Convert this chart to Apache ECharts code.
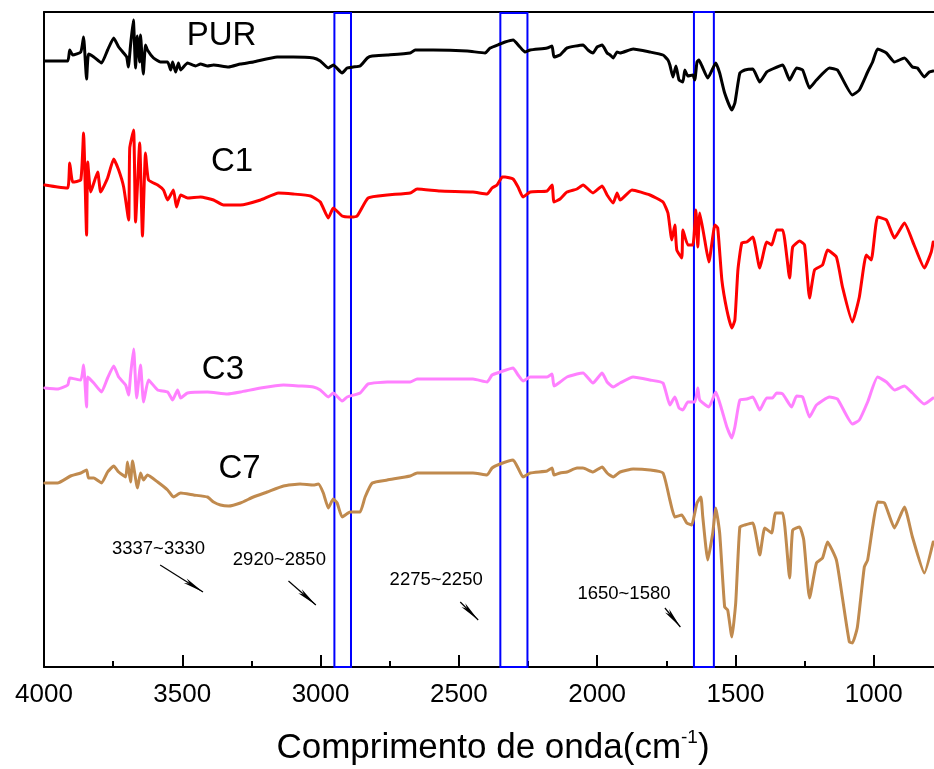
<!DOCTYPE html>
<html><head><meta charset="utf-8">
<script src="https://cdn.jsdelivr.net/npm/echarts@6/dist/echarts.min.js"></script>
<style>html,body{margin:0;padding:0;background:#fff}#c{width:934px;height:769px}</style>
</head><body><div id="c"></div><script>
// Wavenumber (cm-1) and transmittance (a.u., offset)
const purW = [3997,3951,3914,3907,3896,3867,3857,3846,3839,3820,3792,3770,3748,3730,3712,3701,3695,3687,3677,3669,3663,3654,3651,3641,3633,3626,3604,3579,3553,3542,3535,3524,3514,3506,3481,3452,3434,3409,3387,3333,3290,3243,3157,3099,3026,3001,2972,2954,2922,2904,2882,2857,2831,2813,2759,2676,2658,2593,2470,2405,2387,2351,2333,2304,2279,2261,2242,2181,2163,2156,2134,2109,2051,2033,2015,2000,1982,1964,1953,1942,1928,1917,1870,1809,1762,1744,1737,1726,1715,1704,1690,1683,1672,1654,1647,1639,1632,1621,1600,1571,1557,1539,1513,1502,1484,1466,1437,1412,1387,1366,1329,1304,1279,1257,1232,1207,1160,1131,1077,1052,1022,1004,986,954,925,889,860,842,817,799,785];
const purV = [60.6,60.6,60.6,61.7,61.2,61.5,63.0,58.8,61.3,61.0,60.4,61.7,62.9,62.0,61.4,61.0,60.0,62.2,64.7,59.9,63.1,60.5,63.2,59.3,62.2,61.7,60.9,60.5,60.5,59.7,60.5,59.5,60.4,59.7,60.4,60.1,60.3,60.1,60.2,60.0,60.3,60.5,61.0,61.0,60.9,60.6,59.9,60.2,59.4,59.9,60.0,60.1,60.9,61.1,61.2,61.4,61.7,61.7,61.6,61.4,61.9,62.3,62.5,62.7,62.0,61.5,61.7,61.9,62.1,61.0,61.2,61.9,62.2,61.7,61.4,62.0,62.2,61.4,61.2,60.9,61.5,61.4,61.8,61.5,61.2,60.7,60.2,59.0,60.1,58.7,58.5,59.7,59.1,59.2,58.7,60.5,60.7,60.1,58.9,60.4,59.4,57.4,55.7,56.4,59.4,59.7,59.8,58.5,59.5,59.8,60.2,58.7,59.9,59.7,57.9,58.7,59.9,59.7,57.2,57.7,59.5,60.5,61.8,61.4,60.5,60.9,60.0,59.9,59.0,59.5,59.6];

const c1W = [3997,3951,3914,3907,3896,3867,3857,3846,3842,3831,3806,3795,3770,3748,3730,3712,3694,3690,3676,3669,3654,3644,3633,3622,3589,3568,3553,3532,3521,3506,3481,3434,3387,3351,3333,3290,3217,3152,3099,3036,3001,2972,2954,2922,2893,2868,2828,2759,2676,2651,2568,2449,2398,2380,2362,2343,2333,2304,2286,2268,2242,2181,2163,2156,2134,2109,2073,2051,2015,1982,1964,1942,1928,1917,1874,1809,1762,1744,1730,1719,1712,1694,1690,1672,1654,1643,1636,1629,1611,1596,1574,1564,1549,1531,1513,1502,1491,1477,1459,1437,1412,1387,1369,1351,1329,1304,1293,1268,1250,1232,1214,1185,1167,1135,1113,1077,1052,1027,1009,986,954,925,889,854,817,792,785];
const c1V = [48.2,48.0,47.9,50.4,48.5,48.7,53.4,43.2,50.5,47.5,49.5,47.5,48.9,50.8,49.7,48.0,44.7,51.9,53.7,44.5,52.4,43.1,51.4,48.7,48.2,47.7,46.7,47.7,46.0,47.2,46.9,47.0,46.7,46.2,46.2,46.2,46.7,47.4,47.3,47.1,46.5,44.9,45.9,45.1,45.0,45.1,46.9,47.2,47.4,47.8,47.6,47.5,47.3,47.9,48.2,49.0,49.0,48.8,48.0,47.0,47.5,47.6,48.2,46.5,46.8,47.5,47.8,48.2,47.4,48.1,47.2,46.4,47.4,46.7,47.7,47.2,46.5,45.4,42.7,44.2,41.7,40.9,43.7,42.2,42.2,45.7,42.0,45.4,42.7,40.5,44.2,43.9,38.7,35.7,33.9,34.7,39.7,42.4,42.5,43.0,39.9,42.5,42.2,43.7,43.7,38.9,42.0,42.6,42.2,36.9,39.7,40.2,41.7,41.0,38.0,34.5,37.0,41.2,40.7,45.0,44.7,42.9,44.4,42.2,39.9,41.5,42.5];

const c3W = [3997,3951,3914,3907,3867,3857,3846,3842,3820,3792,3770,3748,3730,3705,3694,3687,3676,3665,3651,3640,3622,3589,3553,3535,3517,3506,3481,3409,3337,3290,3217,3134,3074,3026,3001,2972,2954,2922,2904,2857,2828,2759,2676,2651,2568,2449,2398,2380,2351,2304,2286,2268,2242,2181,2163,2156,2134,2109,2073,2051,2015,1982,1964,1942,1917,1870,1809,1762,1737,1719,1704,1690,1672,1647,1636,1629,1596,1571,1549,1531,1513,1502,1484,1459,1437,1412,1387,1366,1351,1329,1297,1279,1257,1232,1207,1160,1131,1077,1052,1022,986,954,925,889,860,817,785];
const c3V = [27.9,27.8,28.2,28.9,28.7,30.2,26.0,29.0,28.4,27.5,28.9,30.1,29.0,28.2,27.2,29.2,31.8,26.9,30.2,26.5,28.7,27.7,27.5,26.7,27.7,26.9,27.4,27.5,27.3,27.5,27.9,28.2,28.1,28.0,27.7,27.0,27.4,26.6,27.0,27.4,28.3,28.5,28.5,28.8,28.8,28.8,28.5,29.2,29.5,29.9,29.2,28.6,29.0,29.0,29.3,28.1,28.5,29.0,29.3,29.4,28.4,29.4,28.5,28.0,28.4,29.0,28.7,28.4,26.2,27.0,25.9,25.7,26.5,26.5,27.9,26.7,26.0,27.5,25.7,24.0,22.9,24.0,26.7,26.8,27.0,25.7,26.9,26.9,27.4,27.3,26.0,27.1,27.0,25.0,26.2,27.0,26.8,24.3,24.7,26.5,29.0,28.5,27.7,28.1,27.4,26.3,26.9];

const c7W = [3997,3951,3904,3867,3846,3839,3820,3792,3770,3748,3730,3705,3698,3687,3680,3662,3651,3640,3626,3589,3553,3532,3506,3459,3409,3387,3362,3333,3290,3243,3193,3134,3074,3026,3008,2990,2972,2954,2940,2922,2893,2875,2857,2839,2813,2759,2676,2651,2568,2449,2398,2380,2351,2304,2286,2268,2242,2181,2163,2156,2134,2109,2073,2051,2015,1982,1964,1942,1917,1870,1809,1762,1737,1719,1694,1676,1658,1650,1639,1625,1618,1600,1582,1571,1557,1539,1528,1513,1499,1484,1466,1437,1412,1394,1369,1355,1329,1304,1293,1268,1253,1232,1207,1185,1167,1135,1113,1088,1077,1059,1034,1022,1004,986,961,925,889,860,817,785];
const c7V = [18.4,18.4,19.1,19.4,19.7,18.9,18.9,18.4,19.5,20.1,19.5,19.0,20.5,18.5,20.6,17.9,19.4,18.7,19.2,18.5,17.7,17.0,17.4,17.2,17.0,16.5,16.2,16.1,16.4,17.0,17.5,18.1,18.3,18.2,18.3,17.4,15.9,16.8,16.4,15.0,15.5,15.5,15.5,17.0,18.4,18.7,19.1,19.4,19.4,19.4,19.2,19.9,20.3,20.7,19.9,19.0,19.4,19.6,19.9,19.2,19.4,19.5,19.9,19.9,19.5,20.0,19.4,19.0,19.5,19.8,19.7,19.4,16.7,15.0,15.2,14.4,14.2,15.0,16.4,17.0,15.0,10.7,13.4,15.9,13.4,6.0,5.7,3.0,6.4,14.0,14.2,14.4,11.2,13.9,13.4,15.4,15.4,8.9,13.7,14.0,12.7,6.9,10.4,10.9,12.5,10.7,6.9,2.5,2.4,4.0,10.0,10.7,14.0,16.5,16.4,13.9,16.0,13.0,9.4,12.5];

const seriesNames = ['PUR','C1','C3','C7'];
const seriesColors = ['#000000','#FF0000','#FF80FF','#C08A4E'];
// label anchor [wavenumber, value]
const nameAnchors = [[3358,63.1],[3320,50.5],[3353,29.7],[3293,19.8]];

// highlighted bands [from, to, top] and the single line
const bands = [[2950,2890,65.4],[2350,2252,65.4],[1650,1578,65.7]];
const singleLine = [3333, 65.8];

// annotations: text, text anchor, arrow start, arrow head centre
const annTexts = ['3337~3330','2920~2850','2275~2250','1650~1580'];
const annTextPos = [[3586,11.8],[3149,10.7],[2582,8.7],[1903,7.3]];
const annFrom = [[3580,10.2],[3116,8.6],[2495,6.5],[1755,5.9]];
const annTo = [[3425,7.5],[3017,6.2],[2430,4.7],[1699,4.0]];

const FONT = '"Liberation Sans", Arial, sans-serif';
const zip = (w, v) => w.slice(0, Math.min(w.length, v.length)).map((x, i) => [x, v[i]]);
const allData = [zip(purW,purV), zip(c1W,c1V), zip(c3W,c3V), zip(c7W,c7V)];

const chart = echarts.init(document.getElementById('c'), null, {renderer:'canvas'});

const series = allData.map((d, i) => ({
  name: seriesNames[i], type: 'line', data: d, showSymbol: false, symbol: 'none',
  smooth: 0.15,
  lineStyle: {color: seriesColors[i], width: 3, join: 'round', cap: 'round'}, itemStyle:{color: seriesColors[i]},
  z: 2, animation: false
}));

series.push({
  type: 'line', data: [], z: 5, clip: false, animation: false,
  markArea: {
    silent: true,
    itemStyle: {color: 'rgba(0,0,0,0)', borderColor: '#0000FF', borderWidth: 2},
    label: {show: false},
    data: bands.map(b => [{xAxis: b[0], yAxis: 0}, {xAxis: b[1], yAxis: b[2]}])
  },
  markLine: {
    silent: true, symbol: 'none', animation: false,
    label: {show: false},
    lineStyle: {color: '#0000FF', width: 2, type: 'solid'},
    data: [[{coord: [singleLine[0], 0]}, {coord: [singleLine[0], singleLine[1]]}]]
  }
});

series.push({
  type: 'line', data: [], z: 6, clip: false, animation: false,
  markLine: {
    silent: true, animation: false,
    label: {show: false},
    symbol: ['none', 'arrow'],
    symbolSize: [4, 21],
    lineStyle: {color: '#000000', width: 1.2, type: 'solid'},
    data: annFrom.map((f, i) => [{coord: f}, {coord: annTo[i]}])
  }
});

chart.setOption({
  animation: false,
  backgroundColor: '#ffffff',
  grid: {left: 44, right: -78, top: 12, bottom: 102, containLabel: false, outerBoundsMode: 'none'},
  xAxis: [{
    type: 'value', min: 500, max: 4000, interval: 500, inverse: true,
    axisLine: {show: true, onZero: false, lineStyle: {color: '#000', width: 2}},
    axisTick: {show: true, inside: true, length: 12, lineStyle: {color: '#000', width: 2}},
    minorTick: {show: true, splitNumber: 2, length: 6, lineStyle: {color: '#000', width: 2}},
    axisLabel: {show: true, margin: 15, color: '#000', fontSize: 26, fontFamily: FONT,
      formatter: v => String(v), hideOverlap: false},
    splitLine: {show: false}
  }, {
    type: 'value', min: 500, max: 4000, inverse: true, position: 'top',
    axisLine: {show: true, onZero: false, lineStyle: {color: '#000', width: 2}},
    axisTick: {show: false}, axisLabel: {show: false}, splitLine: {show: false}
  }],
  yAxis: {
    type: 'value', min: 0, max: 65.5,
    axisLine: {show: true, onZero: false, lineStyle: {color: '#000', width: 2}},
    axisTick: {show: false}, axisLabel: {show: false}, splitLine: {show: false}
  },
  series: series
});

const toPx = p => chart.convertToPixel({xAxisIndex: 0, yAxisIndex: 0}, p);
const graphics = [];
nameAnchors.forEach((a, i) => {
  const p = toPx(a);
  graphics.push({type: 'text', x: p[0], y: p[1], z: 10,
    style: {text: seriesNames[i], font: '33px ' + FONT, fill: '#000', align: 'center', verticalAlign: 'middle'}});
});
annTexts.forEach((t, i) => {
  const p = toPx(annTextPos[i]);
  graphics.push({type: 'text', x: p[0], y: p[1], z: 10,
    style: {text: t, font: '18.5px ' + FONT, fill: '#000', align: 'center', verticalAlign: 'middle'}});
});
graphics.push({type: 'text', x: 493, y: 748, z: 10,
  style: {
    text: '{a|Comprimento de onda(cm}{b|-1}{a|)}',
    align: 'center', verticalAlign: 'middle',
    rich: {
      a: {fontSize: 35, fontFamily: FONT, fill: '#000', lineHeight: 40},
      b: {fontSize: 19, fontFamily: FONT, fill: '#000', lineHeight: 30, verticalAlign: 'top'}
    }
  }});
chart.setOption({graphic: graphics});
</script></body></html>
